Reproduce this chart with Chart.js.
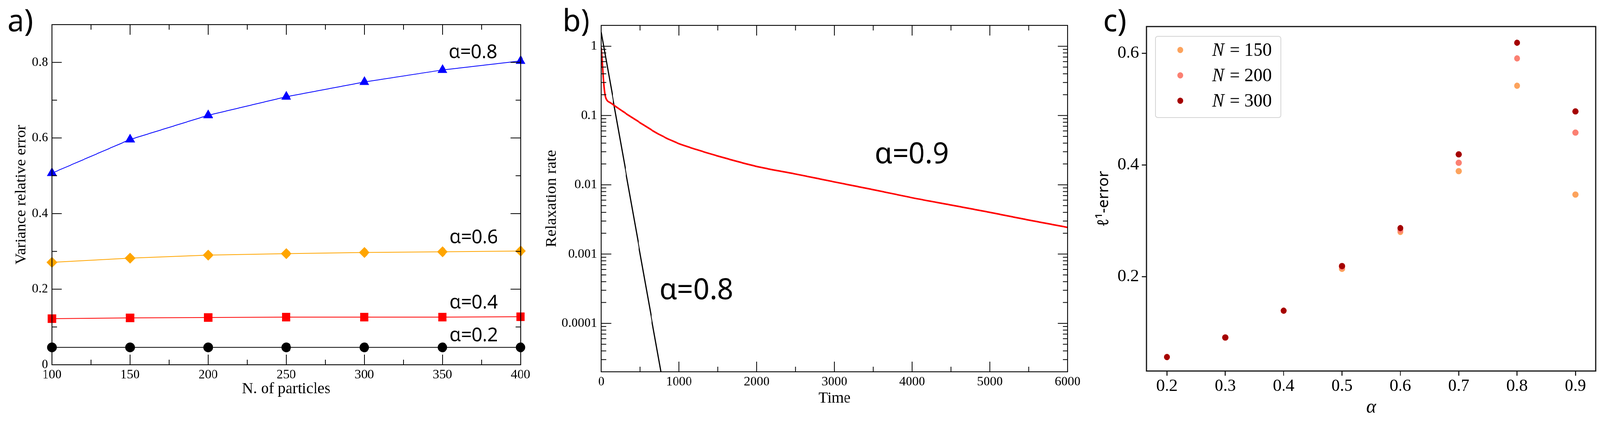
<!DOCTYPE html>
<html><head><meta charset="utf-8">
<script src="https://cdn.jsdelivr.net/npm/chart.js@4.4.1/dist/chart.umd.min.js"></script>
<style>
html,body{margin:0;padding:0;background:#fff;overflow:hidden;}
#wrap{position:absolute;left:0;top:0;width:4220px;height:1078px;overflow:hidden;background:#fff;transform-origin:0 0;}
canvas{position:absolute;top:0;}
</style></head><body>
<div id="wrap">
<canvas id="ca" width="1420" height="1078" style="left:0px;width:1420px;height:1078px"></canvas>
<canvas id="cb" width="1460" height="1078" style="left:1420px;width:1460px;height:1078px"></canvas>
<canvas id="cc" width="1340" height="1078" style="left:2880px;width:1340px;height:1078px"></canvas>
</div>
<script>
// ---------- Panel a data ----------
const particles = [100, 150, 200, 250, 300, 350, 400];
const err08 = [0.507, 0.596, 0.660, 0.709, 0.748, 0.780, 0.804];
const err06 = [0.271, 0.282, 0.290, 0.294, 0.297, 0.299, 0.301];
const err04 = [0.122, 0.124, 0.125, 0.126, 0.126, 0.126, 0.127];
const err02 = [0.046, 0.046, 0.046, 0.046, 0.046, 0.046, 0.046];
const aXTicks = [100, 150, 200, 250, 300, 350, 400];
const aXMinor = [125, 175, 225, 275, 325, 375];
const aYTicks = [0, 0.2, 0.4, 0.6, 0.8];
const aYMinor = [0.1, 0.3, 0.5, 0.7];

// ---------- Panel b data ----------
const timeRed = [0, 11, 23, 36, 52, 76, 110, 150, 280, 490, 735, 980, 1220, 1470, 2000, 2500, 3000, 3500, 4000, 4500, 5000, 5500, 6000];
const rateRed = [0.95, 0.67, 0.40, 0.26, 0.19, 0.164, 0.154, 0.144, 0.114, 0.080, 0.054, 0.040, 0.0324, 0.0266, 0.0184, 0.0143, 0.011, 0.0085, 0.0065, 0.0051, 0.0040, 0.0031, 0.00243];
const timeBlack = [0, 766];
const rateBlack = [1.6, 0.00002];
const bXTicks = [0, 1000, 2000, 3000, 4000, 5000, 6000];
const bXMinor = [500, 1500, 2500, 3500, 4500, 5500];
const bYTicks = [0.0001, 0.001, 0.01, 0.1, 1];
const bYTickLabels = ['0.0001', '0.001', '0.01', '0.1', '1'];

// ---------- Panel c data ----------
const alphas = [0.2, 0.3, 0.4, 0.5, 0.6, 0.7, 0.8, 0.9];
const l1N150 = [0.056, 0.091, 0.139, 0.214, 0.280, 0.389, 0.542, 0.347];
const l1N200 = [0.056, 0.091, 0.139, 0.217, 0.283, 0.404, 0.591, 0.458];
const l1N300 = [0.056, 0.091, 0.139, 0.219, 0.287, 0.419, 0.619, 0.496];
const cSeries = ['N = 150', 'N = 200', 'N = 300'];
const cXTicks = [0.2, 0.3, 0.4, 0.5, 0.6, 0.7, 0.8, 0.9];
const cYTicks = [0.2, 0.4, 0.6];

// ---------- fit the 4220x1078 composition into the actual viewport ----------
const SX = (window.innerWidth || 4220) / 4220, SY = (window.innerHeight || 1078) / 1078;
document.getElementById('wrap').style.transform = 'scale(' + SX + ',' + SY + ')';
const DPR = (window.devicePixelRatio || 1) * Math.max(SX, SY);

// ---------- helpers ----------
const SERIF = "'Liberation Serif', 'DejaVu Serif', serif";
const SANS = "'Noto Sans', 'Open Sans', sans-serif";
Chart.defaults.font.family = SERIF;
Chart.defaults.color = '#000';
const pts = (xs, ys) => xs.map((x, i) => ({ x: x, y: ys[i] }));
const fixTicks = arr => s => { s.ticks = arr.map(v => ({ value: v })); };

// Frame + inward tick marks (xmgrace style)
const frameTicks = {
  id: 'frameTicks',
  afterDatasetsDraw(chart, args, o) {
    const { ctx, chartArea: ca, scales } = chart;
    const xs = scales.x, ys = scales.y;
    ctx.save();
    ctx.strokeStyle = o.color || '#000';
    if (o.inward) {
      ctx.lineWidth = o.tickWidth;
      ctx.beginPath();
      const vt = (v, len) => {
        const p = xs.getPixelForValue(v);
        ctx.moveTo(p, ca.bottom); ctx.lineTo(p, ca.bottom - len);
        ctx.moveTo(p, ca.top); ctx.lineTo(p, ca.top + len);
      };
      const ht = (v, len) => {
        const p = ys.getPixelForValue(v);
        ctx.moveTo(ca.left, p); ctx.lineTo(ca.left + len, p);
        ctx.moveTo(ca.right, p); ctx.lineTo(ca.right - len, p);
      };
      (o.xMajor || []).forEach(v => vt(v, o.majorLen));
      (o.xMinor || []).forEach(v => vt(v, o.minorLen));
      (o.yMajor || []).forEach(v => ht(v, o.majorLen));
      (o.yMinor || []).forEach(v => ht(v, o.minorLen));
      ctx.stroke();
    }
    ctx.lineWidth = o.frameWidth;
    ctx.strokeRect(ca.left, ca.top, ca.width, ca.height);
    ctx.restore();
  }
};

// Text annotations placed at data coordinates, plus the panel letter
const notes = {
  id: 'notes',
  afterDraw(chart, args, o) {
    const { ctx, scales } = chart;
    ctx.save();
    ctx.fillStyle = o.color || '#000';
    ctx.font = o.font;
    ctx.textAlign = 'left';
    ctx.textBaseline = 'alphabetic';
    (o.items || []).forEach(it => {
      ctx.fillText(it.text, scales.x.getPixelForValue(it.x), scales.y.getPixelForValue(it.y));
    });
    if (o.panel) {
      ctx.font = o.panel.font;
      ctx.fillText(o.panel.text, o.panel.x, o.panel.y);
    }
    ctx.restore();
  }
};

// Matplotlib-like legend box drawn inside the plot area
const boxLegend = {
  id: 'boxLegend',
  afterDraw(chart, args, o) {
    const { ctx, chartArea: ca } = chart;
    const x0 = ca.left + o.left, y0 = ca.top + o.top;
    ctx.save();
    ctx.fillStyle = 'rgba(255,255,255,0.85)';
    ctx.strokeStyle = '#d4d4d4';
    ctx.lineWidth = 2;
    ctx.beginPath();
    ctx.roundRect(x0, y0, o.width, o.height, 6);
    ctx.fill(); ctx.stroke();
    ctx.textBaseline = 'middle';
    ctx.textAlign = 'left';
    o.order.forEach((di, row) => {
      const ds = chart.data.datasets[di];
      const yy = y0 + o.rowTop + row * o.rowGap;
      ctx.fillStyle = ds.backgroundColor;
      ctx.beginPath();
      ctx.arc(x0 + o.markerX, yy, o.radius, 0, Math.PI * 2);
      ctx.fill();
      ctx.fillStyle = '#000';
      const head = ds.label.charAt(0), rest = ds.label.slice(1);
      ctx.font = 'italic ' + o.font;
      ctx.fillText(head, x0 + o.textX, yy + 2);
      const w = ctx.measureText(head).width;
      ctx.font = o.font;
      ctx.fillText(rest, x0 + o.textX + w + 2, yy + 2);
    });
    ctx.restore();
  }
};

const baseOpts = {
  responsive: false, animation: false, events: [], devicePixelRatio: DPR,
  plugins: { legend: { display: false }, tooltip: { enabled: false } }
};

// ---------- Panel a ----------
function dsA(label, data, color, style, r) {
  return { label, data, borderColor: color, backgroundColor: color, borderWidth: 2,
    pointStyle: style, pointRadius: r, pointBorderWidth: 0, pointBackgroundColor: color,
    tension: 0, clip: false, fill: false };
}
new Chart(document.getElementById('ca'), {
  type: 'line',
  data: { datasets: [
    dsA('α=0.8', pts(particles, err08), '#0000ff', 'triangle', 15),
    dsA('α=0.6', pts(particles, err06), '#ffa500', 'rectRot', 14),
    dsA('α=0.4', pts(particles, err04), '#ff0000', 'rect', 15.5),
    dsA('α=0.2', pts(particles, err02), '#000000', 'circle', 12.5)
  ]},
  options: Object.assign({}, baseOpts, {
    layout: { padding: { left: 0, right: 47, top: 63, bottom: 0 } },
    scales: {
      x: { type: 'linear', min: 100, max: 400, afterBuildTicks: fixTicks(aXTicks),
        afterFit: s => { s.height = 144; },
        grid: { display: false, drawTicks: false }, border: { display: false },
        ticks: { font: { family: SERIF, size: 34 }, color: '#000', padding: 6, autoSkip: false, maxRotation: 0, callback: v => String(v) },
        title: { display: true, text: 'N. of particles', font: { family: SERIF, size: 41 }, color: '#000', padding: { top: 0, bottom: 57 } } },
      y: { type: 'linear', min: 0, max: 0.9, afterBuildTicks: fixTicks(aYTicks),
        afterFit: s => { s.width = 137; },
        grid: { display: false, drawTicks: false }, border: { display: false },
        ticks: { font: { family: SERIF, size: 34 }, color: '#000', padding: 10, autoSkip: false, callback: v => String(v) },
        title: { display: true, text: 'Variance relative error', font: { family: SERIF, size: 40 }, color: '#000', padding: { top: 32, bottom: 0 } } }
    },
    plugins: Object.assign({}, baseOpts.plugins, {
      frameTicks: { inward: true, xMajor: aXTicks, xMinor: aXMinor, yMajor: aYTicks, yMinor: aYMinor, majorLen: 26, minorLen: 13, tickWidth: 2, frameWidth: 2.2 },
      notes: { font: "49px 'Noto Sans', sans-serif", items: [
        { text: 'α=0.8', x: 354, y: 0.8116 },
        { text: 'α=0.6', x: 354.5, y: 0.321 },
        { text: 'α=0.4', x: 354.5, y: 0.149 },
        { text: 'α=0.2', x: 354.5, y: 0.062 }
      ], panel: { text: 'a)', x: 20, y: 80, font: "78px 'Noto Sans', sans-serif" } }
    })
  }),
  plugins: [frameTicks, notes]
});

// ---------- Panel b ----------
const bYMinor = [];
[0.00001, 0.0001, 0.001, 0.01, 0.1, 1].forEach(d => { for (let k = 2; k <= 9; k++) { const v = d * k; if (v >= 0.00002 && v <= 2) bYMinor.push(v); } });
new Chart(document.getElementById('cb'), {
  type: 'line',
  data: { datasets: [
    { label: 'α=0.9', data: pts(timeRed, rateRed), borderColor: '#ff0000', borderWidth: 4, pointRadius: 0, cubicInterpolationMode: 'monotone', fill: false },
    { label: 'α=0.8', data: pts(timeBlack, rateBlack), borderColor: '#000000', borderWidth: 3, pointRadius: 0, tension: 0, fill: false }
  ]},
  options: Object.assign({}, baseOpts, {
    layout: { padding: { left: 0, right: 64, top: 65, bottom: 0 } },
    scales: {
      x: { type: 'linear', min: 0, max: 6000, afterBuildTicks: fixTicks(bXTicks),
        afterFit: s => { s.height = 126; },
        grid: { display: false, drawTicks: false }, border: { display: false },
        ticks: { font: { family: SERIF, size: 34 }, color: '#000', padding: 6, autoSkip: false, maxRotation: 0, callback: v => String(v) },
        title: { display: true, text: 'Time', font: { family: SERIF, size: 41 }, color: '#000', padding: { top: 0, bottom: 33 } } },
      y: { type: 'logarithmic', min: 0.00002, max: 2, afterBuildTicks: fixTicks(bYTicks),
        afterFit: s => { s.width = 166; },
        grid: { display: false, drawTicks: false }, border: { display: false },
        ticks: { font: { family: SERIF, size: 34 }, color: '#000', padding: 11, autoSkip: false, callback: (v, i) => bYTickLabels[i] },
        title: { display: true, text: 'Relaxation rate', font: { family: SERIF, size: 41 }, color: '#000', padding: { top: 11, bottom: 0 } } }
    },
    plugins: Object.assign({}, baseOpts.plugins, {
      frameTicks: { inward: true, xMajor: bXTicks, xMinor: bXMinor, yMajor: bYTicks, yMinor: bYMinor, majorLen: 26, minorLen: 13, tickWidth: 2, frameWidth: 2.2 },
      notes: { font: "75px 'Noto Sans', sans-serif", items: [
        { text: 'α=0.9', x: 3517, y: 0.0206 },
        { text: 'α=0.8', x: 746, y: 0.000224 }
      ], panel: { text: 'b)', x: 64, y: 80, font: "78px 'Noto Sans', sans-serif" } }
    })
  }),
  plugins: [frameTicks, notes]
});

// ---------- Panel c ----------
const cColors = ['#fca35d', '#fb8072', '#a50000'];
function dsC(label, ys, color, order) {
  return { label, data: pts(alphas, ys), backgroundColor: color, borderColor: color, pointBackgroundColor: color,
    pointRadius: 8, pointBorderWidth: 0, showLine: false, order };
}
new Chart(document.getElementById('cc'), {
  type: 'scatter',
  data: { datasets: [
    dsC(cSeries[0], l1N150, cColors[0], 2),
    dsC(cSeries[1], l1N200, cColors[1], 1),
    dsC(cSeries[2], l1N300, cColors[2], 0)
  ]},
  options: Object.assign({}, baseOpts, {
    layout: { padding: { left: 0, right: 11, top: 68, bottom: 0 } },
    scales: {
      x: { type: 'linear', min: 0.165, max: 0.935, afterBuildTicks: fixTicks(cXTicks),
        afterFit: s => { s.height = 128; },
        grid: { display: true, drawOnChartArea: false, drawTicks: true, tickLength: 12, tickWidth: 2.5, tickColor: '#000' }, border: { display: false },
        ticks: { font: { family: SERIF, size: 45 }, color: '#000', padding: 0, autoSkip: false, maxRotation: 0, callback: v => v.toFixed(1) },
        title: { display: true, text: 'α', font: { family: SERIF, size: 50, style: 'italic' }, color: '#000', padding: { top: 0, bottom: 4 } } },
      y: { type: 'linear', min: 0.031, max: 0.648, afterBuildTicks: fixTicks(cYTicks),
        afterFit: s => { s.width = 144; },
        grid: { display: true, drawOnChartArea: false, drawTicks: true, tickLength: 12, tickWidth: 2.5, tickColor: '#000' }, border: { display: false },
        ticks: { font: { family: SERIF, size: 45 }, color: '#000', padding: 8, autoSkip: false, callback: v => v.toFixed(1) },
        title: { display: true, text: 'ℓ¹-error', font: { family: SANS, size: 40 }, color: '#000', padding: { top: 8, bottom: 0 } } }
    },
    plugins: Object.assign({}, baseOpts.plugins, {
      frameTicks: { inward: false, frameWidth: 3, color: '#111' },
      notes: { font: "78px 'Noto Sans', sans-serif", items: [], panel: { text: 'c)', x: 30, y: 80, font: "78px 'Noto Sans', sans-serif" } },
      boxLegend: { left: 24, top: 25, width: 330, height: 208, rowTop: 35, rowGap: 65, markerX: 65, textX: 149, radius: 8,
        order: [0, 1, 2], font: "48px 'Liberation Serif', serif" }
    })
  }),
  plugins: [frameTicks, notes, boxLegend]
});
</script>
</body></html>
